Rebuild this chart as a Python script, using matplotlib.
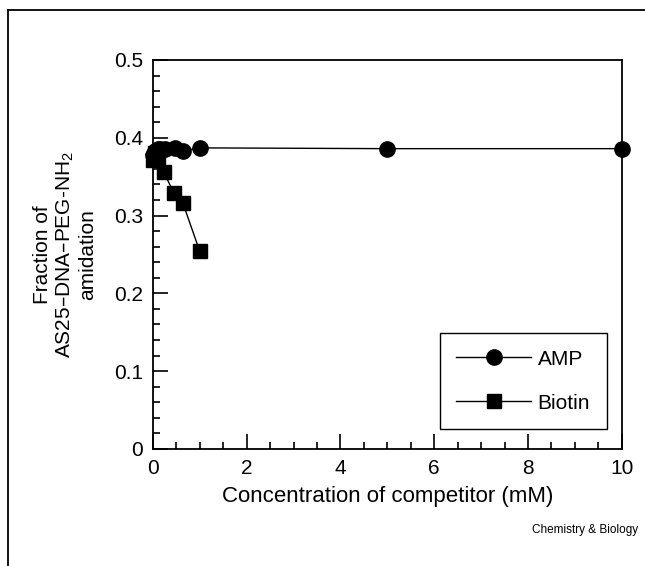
import matplotlib.pyplot as plt
from matplotlib.lines import Line2D
from matplotlib.ticker import MultipleLocator

plt.rcParams['font.family'] = ['Liberation Sans', 'DejaVu Sans']
plt.rcParams['mathtext.default'] = 'regular'

# AMP competitor
amp_conc = [0, 0.05, 0.1, 0.15, 0.25, 0.47, 0.64, 1.0, 5.0, 10.0]
amp_frac = [0.378, 0.383, 0.385, 0.386, 0.385, 0.387, 0.383, 0.387, 0.386, 0.386]

# Biotin competitor
biotin_conc = [0, 0.04, 0.1, 0.23, 0.45, 0.64, 1.0]
biotin_frac = [0.372, 0.380, 0.373, 0.356, 0.329, 0.316, 0.254]


def show_chart():
    fig = plt.figure(figsize=(6.45, 5.66), dpi=100)
    ax = fig.add_axes([0.237, 0.207, 0.727, 0.687])

    ax.plot(amp_conc, amp_frac, color='black', lw=1, marker='o', ms=11,
            label='AMP', clip_on=False, zorder=3)
    ax.plot(biotin_conc, biotin_frac, color='black', lw=1, marker='s', ms=10,
            label='Biotin', clip_on=False, zorder=3)

    ax.set_xlim(0, 10)
    ax.set_ylim(0, 0.5)
    ax.xaxis.set_major_locator(MultipleLocator(2))
    ax.xaxis.set_minor_locator(MultipleLocator(0.5))
    ax.yaxis.set_major_locator(MultipleLocator(0.1))
    ax.yaxis.set_minor_locator(MultipleLocator(0.02))
    ax.xaxis.set_major_formatter(plt.FuncFormatter(lambda v, p: '%d' % v))
    ax.yaxis.set_major_formatter(plt.FuncFormatter(lambda v, p: '0' if v == 0 else '%.1f' % v))
    ax.tick_params(which='both', direction='in', top=False, right=False,
                   labelsize=15, width=1.2)
    ax.tick_params(which='major', length=11, pad=7)
    ax.tick_params(which='minor', length=5)
    for s in ax.spines.values():
        s.set_linewidth(1.3)

    ax.set_xlabel('Concentration of competitor (mM)', fontsize=16, labelpad=6)
    ax.set_ylabel('Fraction of\nAS25\u2013DNA\u2013PEG-NH$_2$\namidation',
                  fontsize=15, labelpad=12, linespacing=1.15)

    leg = ax.legend(loc='lower right', bbox_to_anchor=(0.968, 0.05), fontsize=15,
                    handlelength=3.6, handletextpad=0.3, borderpad=0.8,
                    borderaxespad=0, labelspacing=1.2, fancybox=False,
                    framealpha=1, edgecolor='black')
    leg.get_frame().set_linewidth(1.0)

    fig.text(0.99, 0.063, 'Chemistry & Biology', ha='right', va='center', fontsize=8.5)

    # page frame lines (top and left)
    fig.add_artist(Line2D([0.0125, 1.0], [0.982, 0.982], color='black', lw=1.3,
                          transform=fig.transFigure))
    fig.add_artist(Line2D([0.0125, 0.0125], [0.0, 0.982], color='black', lw=1.3,
                          transform=fig.transFigure))

    fig.savefig('out.png', dpi=100)


if __name__ == "__main__":
    show_chart()
